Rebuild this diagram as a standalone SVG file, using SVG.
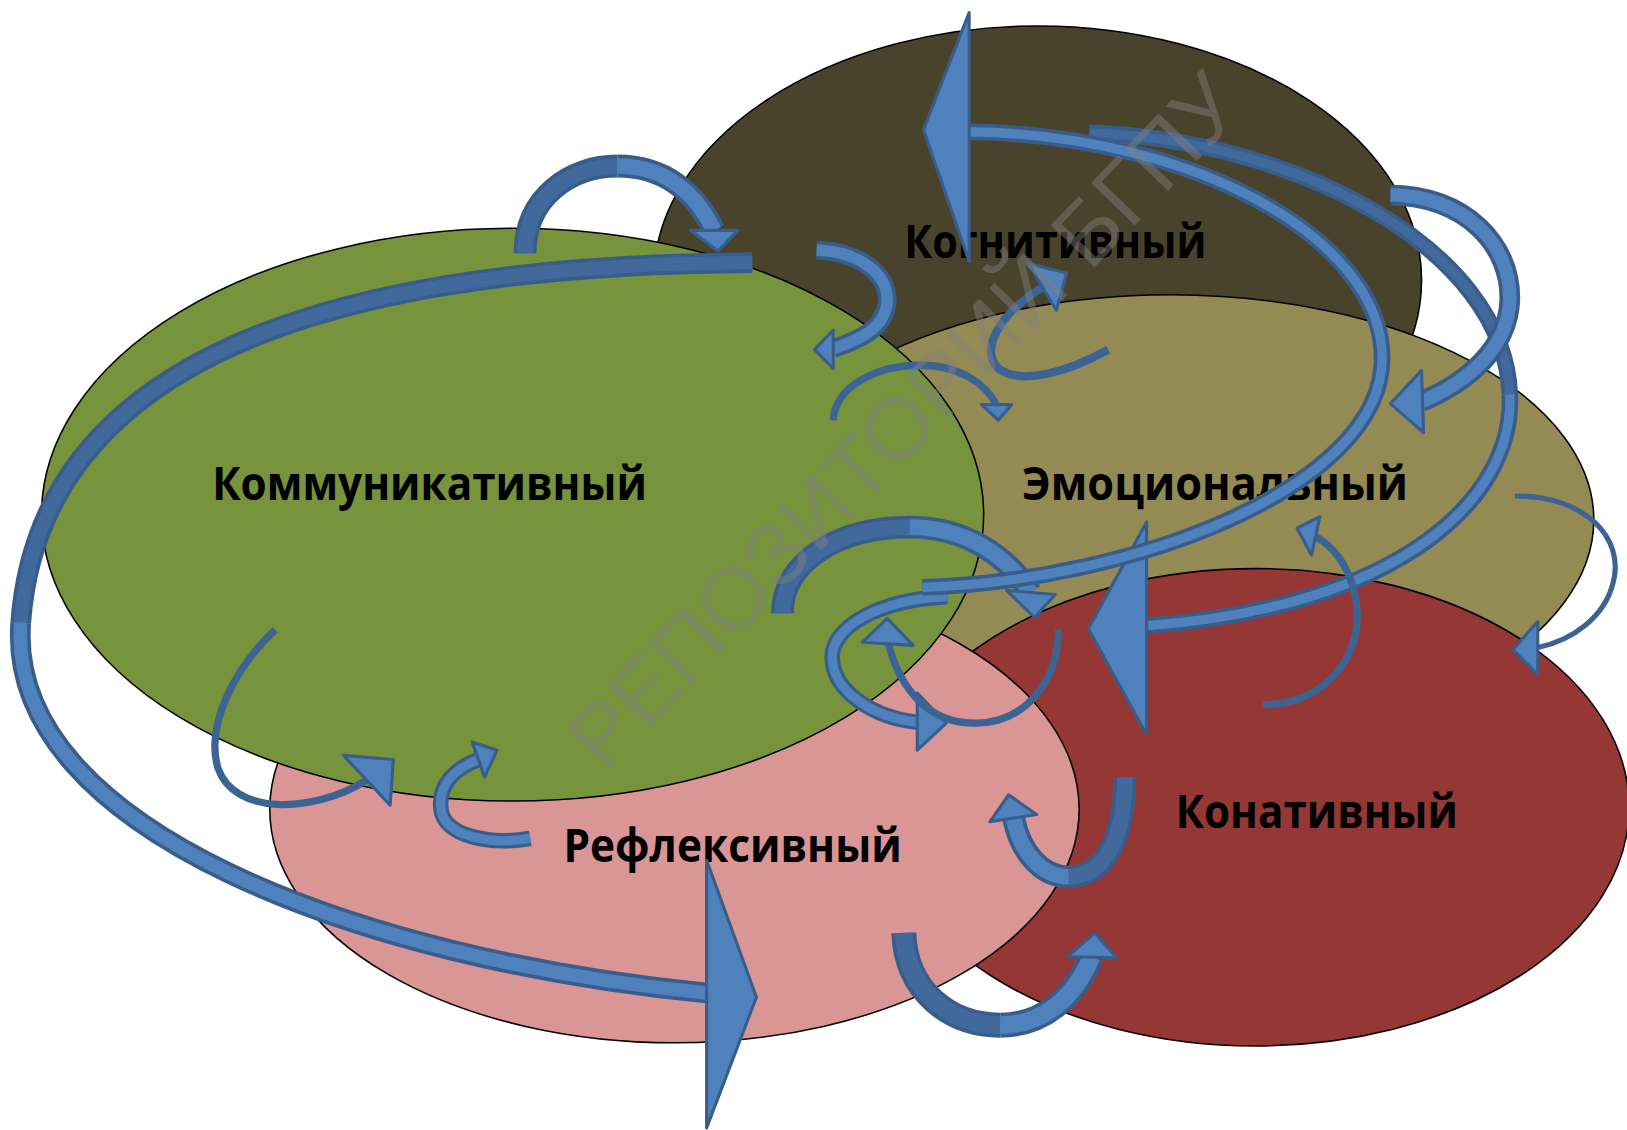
<svg xmlns="http://www.w3.org/2000/svg" xmlns:xlink="http://www.w3.org/1999/xlink" width="1627" height="1130" viewBox="0 0 1627 1130">
<style>
.el{stroke:#000;stroke-width:1.5}
.lbl{font-family:"Open Sans","Noto Sans","DejaVu Sans",sans-serif;font-weight:bold;font-size:44px;fill:#000}
.o{fill:none;stroke:#385d8a;stroke-linecap:butt}
.i{fill:none;stroke:#4f81bd;stroke-linecap:butt}
.dk{fill:none;stroke:#41699c;stroke-linecap:butt}
.t{fill:none;stroke:#3b6394;stroke-linecap:butt}
.h{fill:#4f81bd;stroke:#385d8a;stroke-width:3;stroke-linejoin:round}
.wm{font-family:"Liberation Sans",Arial,sans-serif;font-size:85px;fill:#808080;fill-opacity:0.45}
</style>
<defs>
<path id="a1" d="M725 253 C380 255 40 320 20 600"/>
<path id="a2" d="M20 600 C5 800 350 925 681 957"/>
<path id="b1" d="M934 127 C1150 130 1332 230 1332 345"/>
<path id="b2" d="M1332 345 C1332 470 1090 560 889 566"/>
<path id="c1" d="M1105 603 C1350 585 1460 480 1455 380"/>
<path id="c2" d="M1455 380 C1450 240 1250 135 1050 128"/>
<path id="d1" d="M1340 188 C1410 188 1457 235 1455 290 C1453 335 1415 368 1370 387"/>
<path id="h1" d="M506 244 C506 190 550 160 595 160"/>
<path id="h2" d="M595 160 C640 160 670 185 688 222"/>
<path id="i1" d="M787 241 C830 243 857 265 855 292 C852 316 830 327 803 336"/>
<path id="k1" d="M754 591 C754 540 810 508 877 508"/>
<path id="k2" d="M877 508 C930 508 970 535 993 571"/>
<path id="l1" d="M913 575 C845 578 802 605 802 633 C802 668 845 692 884 696"/>
<path id="o1" d="M511 808 C470 815 428 805 425 780 C422 755 440 740 461 732"/>
<path id="p1" d="M1084 749 C1084 815 1060 845 1030 845"/>
<path id="p2" d="M1030 845 C1003 845 983 820 977 789"/>
<path id="q1" d="M871 899 C873 955 915 988 964 988"/>
<path id="q2" d="M964 988 C1005 988 1035 962 1052 922"/>
</defs>
<rect width="1627" height="1130" fill="#fff"/>
<g transform="scale(1.037628)">
<g id="node-cognitive">
<ellipse class="el" cx="1000" cy="270" rx="370" ry="245" fill="#4a432c"/>
<text class="lbl" x="1017" y="249" text-anchor="middle" textLength="291" lengthAdjust="spacingAndGlyphs">Когнитивный</text>
</g>
<g id="node-emotional">
<ellipse class="el" cx="1128" cy="501" rx="408" ry="217" fill="#948a54"/>
<text class="lbl" x="1171" y="482" text-anchor="middle" textLength="372" lengthAdjust="spacingAndGlyphs">Эмоциональный</text>
</g>
<g id="node-conative">
<ellipse class="el" cx="1210" cy="778" rx="360" ry="230" fill="#953735"/>
<text class="lbl" x="1269" y="798" text-anchor="middle" textLength="272" lengthAdjust="spacingAndGlyphs">Конативный</text>
</g>
<g id="node-reflexive">
<ellipse class="el" cx="650" cy="780" rx="390" ry="225" fill="#d99694"/>
<text class="lbl" x="706" y="831" text-anchor="middle" textLength="326" lengthAdjust="spacingAndGlyphs">Рефлексивный</text>
</g>
<g id="node-communicative">
<ellipse class="el" cx="494" cy="496" rx="454" ry="276" fill="#77933c"/>
<text class="lbl" x="414" y="482" text-anchor="middle" textLength="419" lengthAdjust="spacingAndGlyphs">Коммуникативный</text>
</g>
<g id="connectors">
<!-- C -->
<use xlink:href="#c1" class="o" stroke-width="16"/><use xlink:href="#c2" class="o" stroke-width="16"/>
<use xlink:href="#c1" class="i" stroke-width="9"/><use xlink:href="#c2" class="dk" stroke-width="9"/>
<polygon class="h" points="1105,503 1049,606 1105,708"/>
<!-- D -->
<use xlink:href="#d1" class="o" stroke-width="20"/><use xlink:href="#d1" class="i" stroke-width="13"/>
<polygon class="h" points="1370,357 1340,389 1372,417"/>
<!-- A -->
<use xlink:href="#a1" class="o" stroke-width="20"/><use xlink:href="#a2" class="o" stroke-width="20"/>
<use xlink:href="#a1" class="dk" stroke-width="13"/><use xlink:href="#a2" class="i" stroke-width="13"/>
<polygon class="h" points="681,829 729,961 681,1087"/>
<!-- H -->
<use xlink:href="#h1" class="o" stroke-width="22"/><use xlink:href="#h2" class="o" stroke-width="22"/>
<use xlink:href="#h1" class="dk" stroke-width="15"/><use xlink:href="#h2" class="i" stroke-width="15"/>
<polygon class="h" points="665,222 711,222 692,242"/>
<!-- I -->
<use xlink:href="#i1" class="o" stroke-width="18"/><use xlink:href="#i1" class="i" stroke-width="11"/>
<polygon class="h" points="803,318 785,337 803,355"/>
<!-- J -->
<path class="t" stroke-width="7" d="M803 405 C805 372 845 352 887 352 C925 352 950 370 960 390"/>
<polygon class="h" points="946,390 975,390 962,405"/>
<!-- G -->
<path class="t" stroke-width="8" d="M1068 337 C1030 358 985 372 962 355 C945 338 960 305 1004 277"/>
<polygon class="h" points="991,254 1028,263 1018,299"/>
<!-- K -->
<use xlink:href="#k1" class="o" stroke-width="22"/><use xlink:href="#k2" class="o" stroke-width="22"/>
<use xlink:href="#k1" class="dk" stroke-width="15"/><use xlink:href="#k2" class="i" stroke-width="15"/>
<polygon class="h" points="970,569 1017,573 997,595"/>
<!-- L -->
<use xlink:href="#l1" class="o" stroke-width="15"/><use xlink:href="#l1" class="i" stroke-width="9"/>
<polygon class="h" points="884,668 912,697 884,723"/>
<!-- B -->
<use xlink:href="#b1" class="o" stroke-width="16"/><use xlink:href="#b2" class="o" stroke-width="16"/>
<use xlink:href="#b1" class="i" stroke-width="9"/><use xlink:href="#b2" class="i" stroke-width="9"/>
<polygon class="h" points="934,12 890,125 934,252"/>
<!-- M -->
<path class="t" stroke-width="7" d="M1020 607 C1020 660 985 697 940 697 C895 697 868 665 856 620"/>
<polygon class="h" points="831,619 855,596 880,622"/>
<!-- N -->
<path class="t" stroke-width="7" d="M265 607 C225 645 198 700 210 740 C225 785 300 785 353 752"/>
<polygon class="h" points="331,728 379,732 376,776"/>
<!-- O -->
<use xlink:href="#o1" class="o" stroke-width="15"/><use xlink:href="#o1" class="i" stroke-width="9"/>
<polygon class="h" points="455,715 479,723 467,749"/>
<!-- P -->
<use xlink:href="#p1" class="o" stroke-width="22"/><use xlink:href="#p2" class="o" stroke-width="22"/>
<use xlink:href="#p1" class="dk" stroke-width="15"/><use xlink:href="#p2" class="i" stroke-width="15"/>
<polygon class="h" points="954,792 972,766 999,785"/>
<!-- Q -->
<use xlink:href="#q1" class="o" stroke-width="24"/><use xlink:href="#q2" class="o" stroke-width="24"/>
<use xlink:href="#q1" class="dk" stroke-width="17"/><use xlink:href="#q2" class="i" stroke-width="17"/>
<polygon class="h" points="1029,922 1055,899 1076,923"/>
<!-- E -->
<path class="t" stroke-width="5" d="M1460 478 C1530 478 1565 520 1555 560 C1547 595 1515 617 1482 624"/>
<polygon class="h" points="1482,599 1458,626 1482,650"/>
<!-- F -->
<path class="t" stroke-width="7" d="M1217 679 C1270 680 1310 640 1308 590 C1306 555 1290 530 1268 517"/>
<polygon class="h" points="1272,498 1250,509 1264,535"/>
</g>
<text class="wm" transform="translate(892,426) rotate(-46)" x="0" y="0" text-anchor="middle" textLength="890" lengthAdjust="spacingAndGlyphs">РЕПОЗИТОРИЙ БГПУ</text>
</g>
</svg>
